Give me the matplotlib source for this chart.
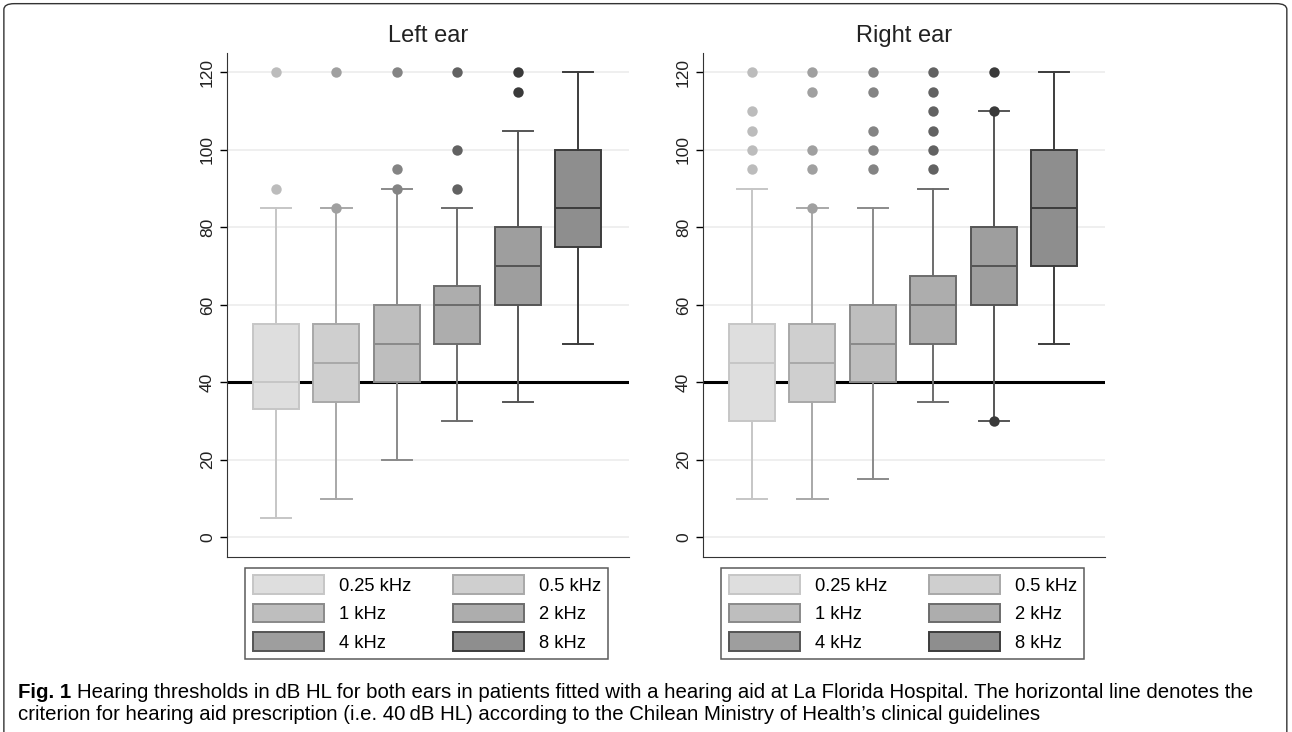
import matplotlib
matplotlib.use('Agg')
import matplotlib.pyplot as plt
from matplotlib.patches import Patch, FancyBboxPatch

plt.rcParams['font.family'] = ['Liberation Sans', 'DejaVu Sans']

# frequencies
freqs = ['0.25 kHz', '0.5 kHz', '1 kHz', '2 kHz', '4 kHz', '8 kHz']

# box stats: whisker low, Q1, median, Q3, whisker high
left_whislo = [5, 10, 20, 30, 35, 50]
left_q1 = [33, 35, 40, 50, 60, 75]
left_med = [40, 45, 50, 60, 70, 85]
left_q3 = [55, 55, 60, 65, 80, 100]
left_whishi = [85, 85, 90, 85, 105, 120]
left_fliers = [[90, 120], [85, 120], [90, 95, 120], [90, 100, 120], [115, 120], []]

right_whislo = [10, 10, 15, 35, 30, 50]
right_q1 = [30, 35, 40, 50, 60, 70]
right_med = [45, 45, 50, 60, 70, 85]
right_q3 = [55, 55, 60, 67.5, 80, 100]
right_whishi = [90, 85, 85, 90, 110, 120]
right_fliers = [[95, 100, 105, 110, 120], [85, 95, 100, 115, 120],
                [95, 100, 105, 115, 120], [95, 100, 105, 110, 115, 120],
                [30, 110, 120], []]

criterion = 40

fills = ['#dedede', '#cfcfcf', '#bebebe', '#adadad', '#9e9e9e', '#8e8e8e']
edges = ['#c6c6c6', '#a8a8a8', '#8a8a8a', '#6c6c6c', '#555555', '#3c3c3c']
dots = ['#bcbcbc', '#a0a0a0', '#848484', '#626262', '#3a3a3a', '#3a3a3a']


def draw_ear(ax, title, whislo, q1, med, q3, whishi, fliers):
    ax.yaxis.grid(True, color='#ececec', lw=1.2, zorder=0)
    ax.axhline(criterion, color='black', lw=2.2, zorder=2)
    for i in range(len(freqs)):
        stats = [dict(med=med[i], q1=q1[i], q3=q3[i], whislo=whislo[i],
                      whishi=whishi[i], fliers=fliers[i])]
        ax.bxp(stats, positions=[i + 1], widths=0.76, patch_artist=True,
               showfliers=True,
               boxprops=dict(facecolor=fills[i], edgecolor=edges[i], lw=1.4),
               medianprops=dict(color=edges[i], lw=1.4),
               whiskerprops=dict(color=edges[i], lw=1.4),
               capprops=dict(color=edges[i], lw=1.4),
               capwidths=0.5,
               flierprops=dict(marker='o', markersize=7.5, markerfacecolor=dots[i],
                               markeredgecolor='none'),
               zorder=3)
    ax.set_xlim(0.184, 6.844)
    ax.set_ylim(-5, 125)
    ax.set_yticks([0, 20, 40, 60, 80, 100, 120])
    ax.set_xticks([])
    ax.tick_params(axis='y', labelsize=12.5, length=5, width=1, labelrotation=90,
                   labelcolor='#222222')
    for lab in ax.get_yticklabels():
        lab.set_va('center')
    ax.spines['top'].set_visible(False)
    ax.spines['right'].set_visible(False)
    ax.spines['left'].set_color('#333333')
    ax.spines['bottom'].set_color('#333333')
    ax.set_title(title, fontsize=17, pad=8, color='#222222')

    # row-major order like the original legend
    order = [0, 2, 4, 1, 3, 5]
    handles = [Patch(facecolor=fills[i], edgecolor=edges[i], lw=1.4, label=freqs[i])
               for i in order]
    leg = ax.legend(handles=handles, ncol=2, loc='upper center',
                    bbox_to_anchor=(0.4975, -0.022), fontsize=13.2, frameon=True,
                    fancybox=False, edgecolor='#333333', handlelength=3.85,
                    handleheight=1.15, labelspacing=0.5, columnspacing=2.3,
                    handletextpad=0.82, borderpad=0.42, borderaxespad=0)
    leg.get_frame().set_linewidth(1.1)


fig = plt.figure(figsize=(12.92, 7.32), dpi=100)
ax_l = fig.add_axes([0.1755, 0.2395, 0.3114, 0.688])
ax_r = fig.add_axes([0.5439, 0.2395, 0.3114, 0.688])

draw_ear(ax_l, 'Left ear', left_whislo, left_q1, left_med, left_q3, left_whishi, left_fliers)
draw_ear(ax_r, 'Right ear', right_whislo, right_q1, right_med, right_q3, right_whishi, right_fliers)

# outer frame
frame = FancyBboxPatch((0.003, -0.02), 0.993, 1.015, transform=fig.transFigure,
                       boxstyle='round,pad=0,rounding_size=0.008', fill=False,
                       edgecolor='#333333', lw=1)
fig.patches.append(frame)

cap_size = 14.7
fig_lab = fig.text(0.014, 0.047, 'Fig. 1', fontsize=cap_size, fontweight='bold',
                   va='baseline')
fig.add_artist(plt.Annotation(
    'Hearing thresholds in dB HL for both ears in patients fitted with a hearing '
    'aid at La Florida Hospital. The horizontal line denotes the',
    xy=(1, 0), xycoords=fig_lab, xytext=(4, 0), textcoords='offset points',
    fontsize=cap_size, va='bottom'))
fig.text(0.014, 0.017, 'criterion for hearing aid prescription (i.e. 40\u2009dB HL) according to '
         'the Chilean Ministry of Health\u2019s clinical guidelines',
         fontsize=cap_size, va='baseline')

fig.savefig('out.png', dpi=100)
